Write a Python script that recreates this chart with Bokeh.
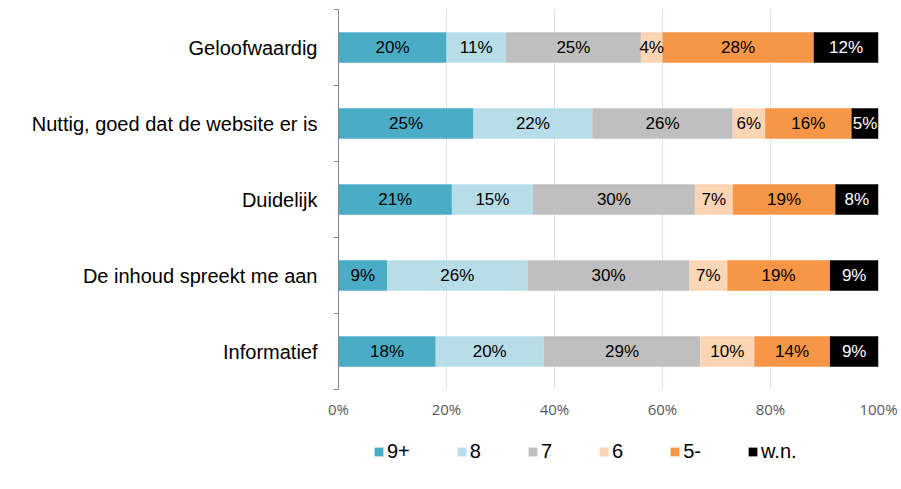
from bokeh.plotting import figure
from bokeh.models import Range1d, FixedTicker, Legend, LegendItem, ColumnDataSource
from bokeh.layouts import column
from bokeh.core.properties import value
from bokeh.embed import file_html
from bokeh.resources import INLINE

categories = ["Geloofwaardig", "Nuttig, goed dat de website er is", "Duidelijk",
              "De inhoud spreekt me aan", "Informatief"]
series = ["9+", "8", "7", "6", "5-", "w.n."]
v_9plus = [20, 25, 21, 9, 18]
v_8 = [11, 22, 15, 26, 20]
v_7 = [25, 26, 30, 30, 29]
v_6 = [4, 6, 7, 7, 10]
v_5min = [28, 16, 19, 19, 14]
v_wn = [12, 5, 8, 9, 9]
x_ticks = [0, 20, 40, 60, 80, 100]

colors = ["#4bacc6", "#b7dde8", "#bfbfbf", "#fcd5b5", "#f79646", "#000000"]
text_colors = ["#000000", "#000000", "#000000", "#000000", "#000000", "#ffffff"]
values = [v_9plus, v_8, v_7, v_6, v_5min, v_wn]

n = len(categories)
ypos = [n - 0.5 - i for i in range(n)]

data = {"y": ypos}
for s, vals in zip(series, values):
    data[s] = vals
source = ColumnDataSource(data)

p = figure(width=900, height=425, output_backend="svg", toolbar_location=None,
           x_range=Range1d(0, 100), y_range=Range1d(0, n),
           min_border_left=338, min_border_right=22, min_border_top=9, min_border_bottom=36)
p.outline_line_color = None
p.background_fill_color = "white"
p.border_fill_color = "white"

renderers = p.hbar_stack(series, y="y", height=0.4, color=colors, line_color=None, source=source)

# bar labels
lx, ly, lt, lc = [], [], [], []
for i in range(n):
    cum = 0
    for j, vals in enumerate(values):
        v = vals[i]
        lx.append(cum + v / 2)
        ly.append(ypos[i])
        lt.append(f"{v}%")
        lc.append(text_colors[j])
        cum += v
p.text(x=lx, y=ly, text=lt, text_color=lc, text_align="center", text_baseline="middle",
       text_font=value("Liberation Sans"), text_font_size="17px")

# x axis
xa = p.xaxis[0]
xa.ticker = FixedTicker(ticks=x_ticks, minor_ticks=[])
xa.major_label_overrides = {t: f"{t}%" for t in x_ticks}
xa.axis_line_color = None
xa.major_tick_line_color = None
xa.minor_tick_line_color = None
xa.major_label_text_font = "Open Sans"
xa.major_label_text_font_size = "15px"
xa.major_label_text_color = "#595959"
xa.major_label_standoff = 3

# y axis
ya = p.yaxis[0]
ya.ticker = FixedTicker(ticks=ypos, minor_ticks=list(range(n + 1)))
ya.major_label_overrides = {y: c for y, c in zip(ypos, categories)}
ya.axis_line_color = "#868686"
ya.major_tick_line_color = None
ya.major_tick_out = 0
ya.major_tick_in = 0
ya.minor_tick_line_color = "#868686"
ya.minor_tick_out = 5
ya.minor_tick_in = 0
ya.major_label_text_font = "Liberation Sans"
ya.major_label_text_font_size = "20px"
ya.major_label_text_color = "#000000"
ya.major_label_standoff = 16

p.ygrid.grid_line_color = None
p.xgrid.ticker = FixedTicker(ticks=x_ticks)
p.xgrid.grid_line_color = "#d9e2f0"
p.xgrid.grid_line_width = 1

# legend in a second, axis-less figure below the chart
p2 = figure(width=900, height=55, output_backend="svg", toolbar_location=None,
            x_range=Range1d(0, 1), y_range=Range1d(0, 1),
            x_axis_type=None, y_axis_type=None,
            min_border_left=338, min_border_right=22, min_border_top=0, min_border_bottom=0)
p2.outline_line_color = None
p2.grid.grid_line_color = None
leg_renderers = [p2.hbar(y=[5], left=[0], right=[0], height=0.5, color=c, line_color=None)
                 for c in colors]
items = [LegendItem(label=s, renderers=[r]) for s, r in zip(series, leg_renderers)]
legend = Legend(items=items, orientation="horizontal", location=(35, 17),
                glyph_width=11, glyph_height=11, label_standoff=3, spacing=46, label_width=0,
                label_text_font="Liberation Sans", label_text_font_size="20px",
                label_text_color="#000000",
                padding=0, margin=0, border_line_color=None, background_fill_alpha=0)
p2.add_layout(legend, "center")

layout = column(p, p2, spacing=0)
open("out.html", "w").write(file_html(layout, INLINE))
